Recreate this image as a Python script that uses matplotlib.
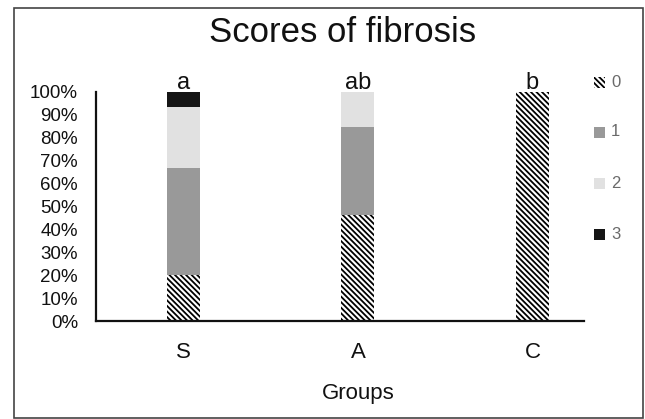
import matplotlib
matplotlib.use("Agg")
import matplotlib.pyplot as plt
from matplotlib.patches import Rectangle
import numpy as np

plt.rcParams['font.family'] = ['Liberation Sans', 'DejaVu Sans']
plt.rcParams['hatch.linewidth'] = 1.3

groups = ["S", "A", "C"]
letters = ["a", "ab", "b"]
score_labels = ["0", "1", "2", "3"]
score0 = [20.0, 46.2, 100.0]
score1 = [46.7, 38.5, 0.0]
score2 = [26.7, 15.3, 0.0]
score3 = [6.6, 0.0, 0.0]
series = [score0, score1, score2, score3]
colors = ["white", "#999999", "#e1e1e1", "#151515"]
hatches = ["\\" * 6, None, None, None]

W, H = 645, 419
fig = plt.figure(figsize=(W / 100, H / 100), dpi=100)
ax = fig.add_axes([96 / W, 1 - 321 / H, (584 - 96) / W, (321 - 92) / H])

x = np.arange(len(groups))
bottom = np.zeros(len(groups))
for vals, c, h in zip(series, colors, hatches):
    v = np.array(vals) / 100.0
    ax.bar(x, v, width=0.19, bottom=bottom, color=c, hatch=h,
           edgecolor="black" if h else c, linewidth=0)
    bottom += v

for xi, lab, top in zip(x, letters, bottom):
    ax.annotate(lab, (xi, top), xytext=(0, 2), textcoords="offset points",
                ha="center", va="baseline", fontsize=17, color="#111111")

ax.set_xlim(-0.5, 2.295)
ax.set_ylim(0, 1)
ax.set_yticks(np.arange(0, 1.01, 0.1))
ax.set_yticklabels([f"{int(round(t * 100))}%" for t in np.arange(0, 1.01, 0.1)])
ax.set_xticks(x)
ax.set_xticklabels(groups)
ax.tick_params(axis="y", length=0, pad=13, labelsize=13.5, labelcolor="#111111")
ax.tick_params(axis="x", length=0, pad=15, labelsize=16, labelcolor="#111111")
for s in ["top", "right"]:
    ax.spines[s].set_visible(False)
for s in ["left", "bottom"]:
    ax.spines[s].set_linewidth(1.6)
    ax.spines[s].set_color("#111111")

fig.text(343 / W, 1 - 33 / H, "Scores of fibrosis", ha="center", va="center",
         fontsize=25, color="#111111")
fig.text(358 / W, 1 - 393 / H, "Groups", ha="center", va="center",
         fontsize=16, color="#111111")

# legend
leg_y = [82, 132, 183, 234]
for ly, lab, c, h in zip(leg_y, score_labels, colors, hatches):
    sq = Rectangle((594 / W, 1 - (ly + 6) / H), 11 / W, 11 / H, transform=fig.transFigure,
                   facecolor=c, hatch=h, edgecolor="black" if h else c, linewidth=0)
    fig.add_artist(sq)
    fig.text(611 / W, 1 - ly / H, lab, ha="left", va="center", fontsize=12, color="#6a6a6a")

# frame
fig.add_artist(Rectangle((14 / W, 1 - 418 / H), (643 - 14) / W, (418 - 8) / H,
                         transform=fig.transFigure, fill=False, edgecolor="#444444",
                         linewidth=1.2))

fig.savefig("out.png", dpi=100)
